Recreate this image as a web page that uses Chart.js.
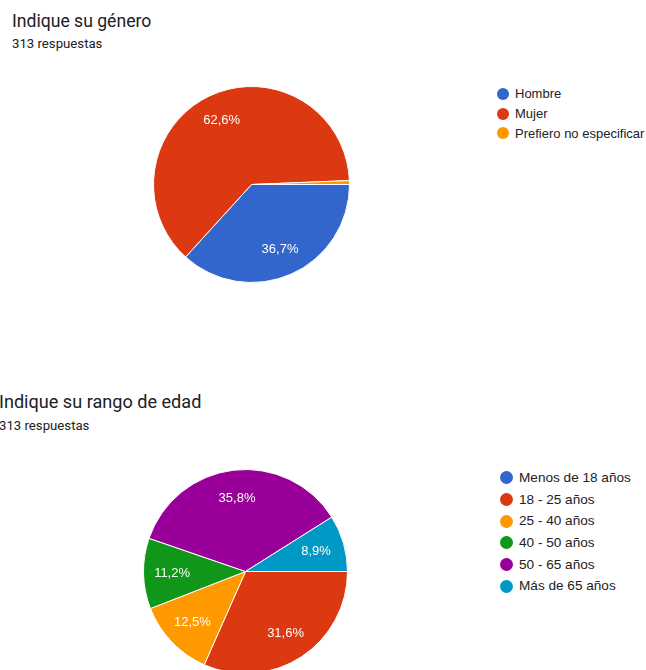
<!DOCTYPE html>
<html>
<head>
<meta charset="utf-8">
<script src="https://cdn.jsdelivr.net/npm/chart.js@4.4.0/dist/chart.umd.min.js"></script>
<style>
  html, body { margin: 0; padding: 0; background: #fff; width: 646px; height: 670px; overflow: hidden; }
  body { position: relative; }
  .title { position: absolute; font-family: Roboto, sans-serif; color: #202124; white-space: nowrap; line-height: 1.2; }
  .sub { position: absolute; font-family: Roboto, sans-serif; color: #202124; white-space: nowrap; line-height: 1.2; }
  canvas { position: absolute; }
  .legend { position: absolute; font-family: "Liberation Sans", Arial, sans-serif; color: #222; }
  .legend div { position: relative; white-space: nowrap; }
  .legend span { position: absolute; border-radius: 50%; }
</style>
</head>
<body>
<div class="title" style="left:12px; top:11px; font-size:17.6px;">Indique su género</div>
<div class="sub" style="left:12px; top:36px; font-size:13.2px;">313 respuestas</div>
<canvas id="genero" width="197" height="197" style="left:153px; top:86px;"></canvas>
<div class="legend" id="legendGenero" style="left:497px; top:84px; font-size:13px;"></div>

<div class="title" style="left:-1px; top:391px; font-size:18.1px;">Indique su rango de edad</div>
<div class="sub" style="left:-1px; top:418px; font-size:13.2px;">313 respuestas</div>
<canvas id="edad" width="205" height="205" style="left:143px; top:469px;"></canvas>
<div class="legend" id="legendEdad" style="left:500px; top:467px; font-size:13.6px;"></div>

<script>
'use strict';

// Indique su género (313 respuestas)
const generoLabels = ['Hombre', 'Mujer', 'Prefiero no especificar'];
const generoValues = [115, 196, 2];
const generoColors = ['#3366cc', '#dc3912', '#ff9900'];

// Indique su rango de edad (313 respuestas)
const edadLabels = ['Menos de 18 años', '18 - 25 años', '25 - 40 años', '40 - 50 años', '50 - 65 años', 'Más de 65 años'];
const edadValues = [0, 99, 39, 35, 112, 28];
const edadColors = ['#3366cc', '#dc3912', '#ff9900', '#109618', '#990099', '#0099c6'];

// percent labels inside the slices, spanish decimal comma
const sliceLabels = {
  id: 'sliceLabels',
  afterDatasetsDraw(chart, args, opts) {
    const ctx = chart.ctx;
    const data = chart.data.datasets[0].data;
    const total = data.reduce((a, b) => a + b, 0);
    ctx.save();
    ctx.fillStyle = '#fff';
    ctx.font = opts.size + 'px "Liberation Sans", Arial, sans-serif';
    ctx.textAlign = 'center';
    ctx.textBaseline = 'middle';
    chart.getDatasetMeta(0).data.forEach((arc, i) => {
      const pct = data[i] / total * 100;
      if (pct < 5) return;
      const mid = (arc.startAngle + arc.endAngle) / 2;
      const d = arc.outerRadius * 0.72;
      const x = arc.x + Math.cos(mid) * d;
      const y = arc.y + Math.sin(mid) * d;
      ctx.fillText(pct.toFixed(1).replace('.', ',') + '%', x, y);
    });
    ctx.restore();
  },
};

function makePie(id, labels, values, colors, labelSize) {
  return new Chart(document.getElementById(id), {
    type: 'pie',
    data: {
      labels: labels,
      datasets: [{
        data: values,
        backgroundColor: colors,
        borderColor: '#fff',
        borderWidth: 1,
      }],
    },
    options: {
      responsive: false,
      animation: false,
      rotation: 90,
      layout: { padding: 0 },
      plugins: {
        legend: { display: false },
        tooltip: { enabled: false },
        sliceLabels: { size: labelSize },
      },
    },
    plugins: [sliceLabels],
  });
}

// html legend built from chart data
function buildLegend(chart, elId, rowH, dot) {
  const el = document.getElementById(elId);
  const ds = chart.data.datasets[0];
  chart.data.labels.forEach((label, i) => {
    const row = document.createElement('div');
    row.style.height = rowH + 'px';
    row.style.lineHeight = rowH + 'px';
    row.style.paddingLeft = (dot + 6) + 'px';
    const s = document.createElement('span');
    s.style.width = dot + 'px';
    s.style.height = dot + 'px';
    s.style.left = '0px';
    s.style.top = ((rowH - dot) / 2) + 'px';
    s.style.background = ds.backgroundColor[i];
    row.appendChild(s);
    row.appendChild(document.createTextNode(label));
    el.appendChild(row);
  });
}

const generoChart = makePie('genero', generoLabels, generoValues, generoColors, 13);
const edadChart = makePie('edad', edadLabels, edadValues, edadColors, 13);
buildLegend(generoChart, 'legendGenero', 19.8, 12);
buildLegend(edadChart, 'legendEdad', 21.7, 13);
</script>
</body>
</html>
